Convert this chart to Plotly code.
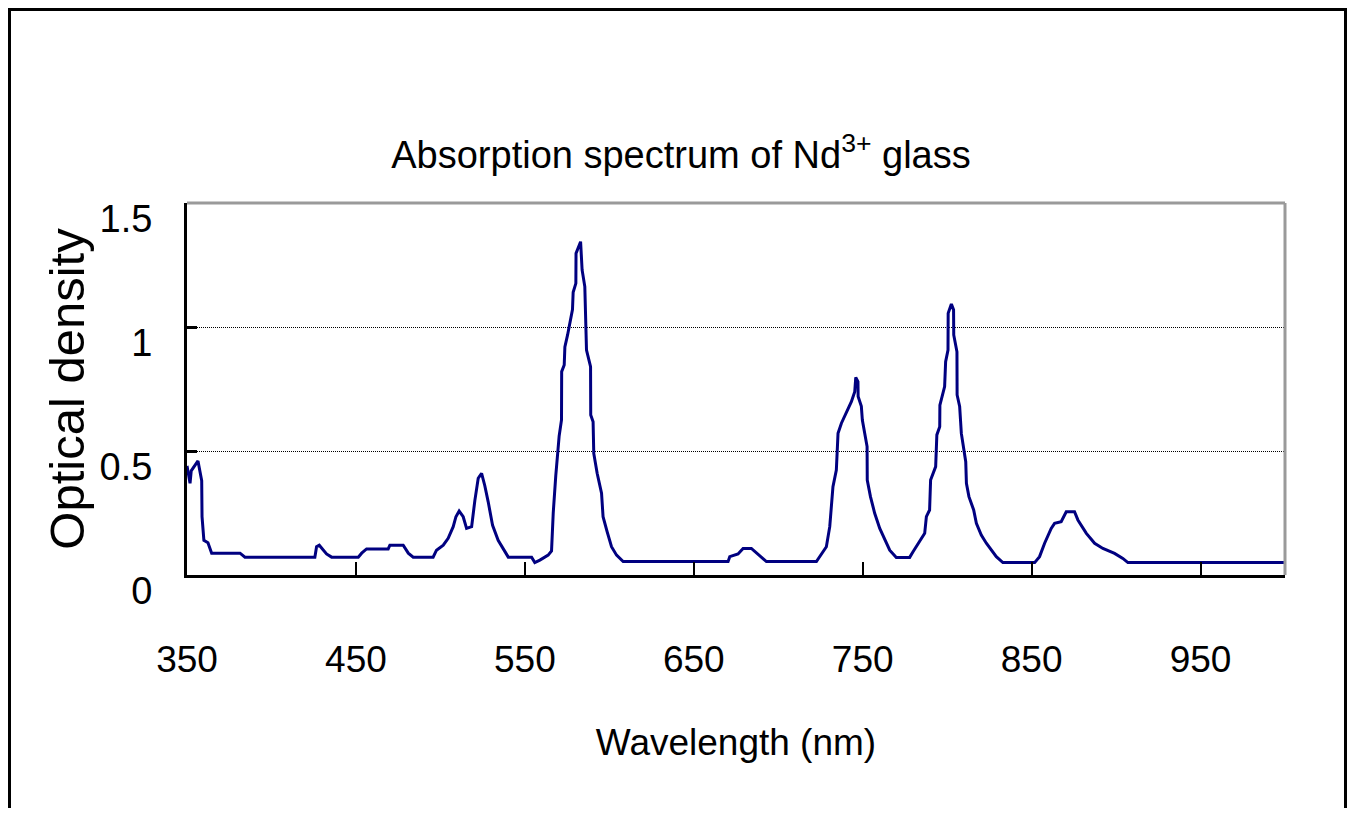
import plotly.graph_objects as go

# ---- data ----
wavelength_nm = [350, 351.8, 352.5, 356.5, 358.7, 358.9, 360, 362.4, 364.6, 381.4, 384.3,
                 425.7, 426.7, 428.3, 432.6, 435.6, 451.4, 453.4, 456.3, 469.1, 470.1, 478,
                 481, 483.9, 495.7, 497.7, 501.7, 504.6, 507.6, 509.2, 511.1, 513.5, 515.5,
                 518.5, 520.4, 522.4, 524.4, 526.3, 528.3, 530.9, 534.2, 537.2, 540.2, 554,
                 555.9, 558.9, 563.8, 565.8, 566.8, 568.3, 570.3, 571.7, 571.8, 573.3, 573.7,
                 575.3, 578.2, 578.6, 580.2, 580.3, 583, 583.9, 585.5, 586.5, 588.9, 589.0,
                 590.4, 590.8, 592.8, 595.4, 596.3, 598.7, 601.3, 604.3, 608.2, 670.3, 671.3,
                 676.2, 679.2, 684.1, 688, 693, 722.6, 724.6, 728.5, 730.5, 732.4, 734.4,
                 735.4, 737.4, 740.3, 743.3, 745.3, 745.9, 747.2, 747.3, 749.2, 749.8, 752.6,
                 752.7, 754.6, 757.1, 760.1, 763, 766, 769.9, 777.8, 779.8, 783.7, 786.7,
                 787.7, 789.6, 790.2, 793.2, 793.9, 795.6, 795.7, 798.5, 799.1, 800.5, 800.6,
                 802.5, 803.8, 803.9, 805.8, 805.9, 807.4, 808.4, 811, 811.4, 812.9, 815.7,
                 817.3, 820.2, 823.2, 826.1, 829.1, 833, 851.8, 854.7, 857.7, 861.6, 863.6,
                 867.5, 870.5, 875.4, 877.4, 882.4, 887.3, 892.2, 899.1, 904, 907, 1000]
optical_density = [0.44, 0.37, 0.42, 0.46, 0.38, 0.235, 0.14, 0.13, 0.088, 0.088, 0.072,
                   0.072, 0.114, 0.12, 0.085, 0.072, 0.072, 0.088, 0.105, 0.105, 0.12, 0.12,
                   0.088, 0.072, 0.072, 0.10, 0.12, 0.148, 0.195, 0.235, 0.258, 0.235, 0.188,
                   0.195, 0.30, 0.39, 0.41, 0.36, 0.295, 0.20, 0.14, 0.105, 0.072, 0.072,
                   0.05, 0.06, 0.08, 0.097, 0.25, 0.40, 0.56, 0.625, 0.82, 0.847, 0.92,
                   0.968, 1.07, 1.14, 1.176, 1.297, 1.344, 1.23, 1.163, 0.907, 0.84, 0.645,
                   0.618, 0.49, 0.41, 0.33, 0.235, 0.175, 0.114, 0.08, 0.054, 0.054, 0.074,
                   0.085, 0.107, 0.107, 0.085, 0.054, 0.054, 0.074, 0.114, 0.195, 0.356, 0.423,
                   0.571, 0.612, 0.652, 0.699, 0.739, 0.797, 0.78, 0.72, 0.68, 0.625, 0.518,
                   0.383, 0.316, 0.249, 0.188, 0.141, 0.10, 0.071, 0.071, 0.094, 0.134, 0.168,
                   0.235, 0.262, 0.383, 0.437, 0.565, 0.598, 0.685, 0.76, 0.86, 0.907, 1.055,
                   1.093, 1.069, 0.968, 0.90, 0.726, 0.68, 0.571, 0.457, 0.37, 0.316, 0.262,
                   0.208, 0.161, 0.128, 0.10, 0.074, 0.05, 0.05, 0.074, 0.128, 0.188, 0.208,
                   0.215, 0.255, 0.255, 0.222, 0.168, 0.128, 0.107, 0.087, 0.067, 0.05, 0.05]
x_tick_values = [350, 450, 550, 650, 750, 850, 950]
y_tick_values = [0, 0.5, 1, 1.5]
y_tick_labels = ["0", "0.5", "1", "1.5"]

NARROW = ("Liberation Sans Narrow, Arial Narrow, Noto Sans ExtraCondensed, "
          "Noto Sans Condensed, Liberation Sans, sans-serif")
REGULAR = "Liberation Sans, Arial, sans-serif"

# page has an 8px body margin, so the figure starts at screen (8, 8);
# keep the figure inside the window so no scrollbars appear
OFF = 8
W, H = 1355 - 2 * OFF, 816 - 2 * OFF
PL, PR, PT, PB = 187, 1285, 203, 575          # plot box in screen pixels
pw, ph = PR - PL, PB - PT

fig = go.Figure()
fig.add_trace(go.Scatter(
    x=wavelength_nm, y=optical_density, mode="lines",
    line=dict(color="#000080", width=3), showlegend=False, hoverinfo="x+y"))

fig.update_layout(
    width=W, height=H,
    margin=dict(l=PL - OFF, r=W - (PR - OFF), t=PT - OFF, b=H - (PB - OFF), autoexpand=False),
    paper_bgcolor="white", plot_bgcolor="white",
    title=dict(text="Absorption spectrum of Nd<sup>3+</sup> glass",
               font=dict(family=NARROW, size=38, color="black"),
               x=(681 - OFF) / W, xref="container", xanchor="center",
               y=1 - (155 - OFF) / H, yref="container", yanchor="middle"),
    xaxis=dict(range=[350, 1000], tickvals=x_tick_values, ticks="inside", ticklen=13,
               tickwidth=2, tickcolor="black", showline=True, linecolor="black",
               linewidth=3, showgrid=False, zeroline=False,
               tickfont=dict(family=NARROW, size=37, color="black"),
               ticklabelstandoff=50,
               title=dict(text="Wavelength (nm)", standoff=50,
                          font=dict(family=NARROW, size=37, color="black"))),
    yaxis=dict(range=[0, 1.5], tickvals=y_tick_values, ticktext=y_tick_labels,
               ticks="inside", ticklen=10, tickwidth=3, tickcolor="black",
               showline=True, linecolor="black", linewidth=3,
               showgrid=True, gridcolor="black", gridwidth=1, griddash="1px,1px",
               zeroline=False,
               tickfont=dict(family=NARROW, size=38, color="black"),
               ticklabelstandoff=24, ticklabelshift=16,
               title=dict(text="Optical density", standoff=0,
                          font=dict(family=REGULAR, size=49, color="black"))),
)

# plot frame: gray top and right edges
fig.add_shape(type="line", xref="paper", yref="paper", x0=0, x1=1, y0=1, y1=1,
              line=dict(color="#9a9a9a", width=3), layer="above")
fig.add_shape(type="line", xref="paper", yref="paper", x0=1, x1=1, y0=0, y1=1,
              line=dict(color="#9a9a9a", width=3), layer="above")
# outer chart border
fig.add_shape(type="rect", xref="paper", yref="paper",
              x0=(9.5 - PL) / pw, x1=(1345.5 - PL) / pw,
              y0=(PB - 830) / ph, y1=(PB - 9.5) / ph,
              line=dict(color="black", width=3), fillcolor="rgba(0,0,0,0)")

fig.write_html("out.html")
